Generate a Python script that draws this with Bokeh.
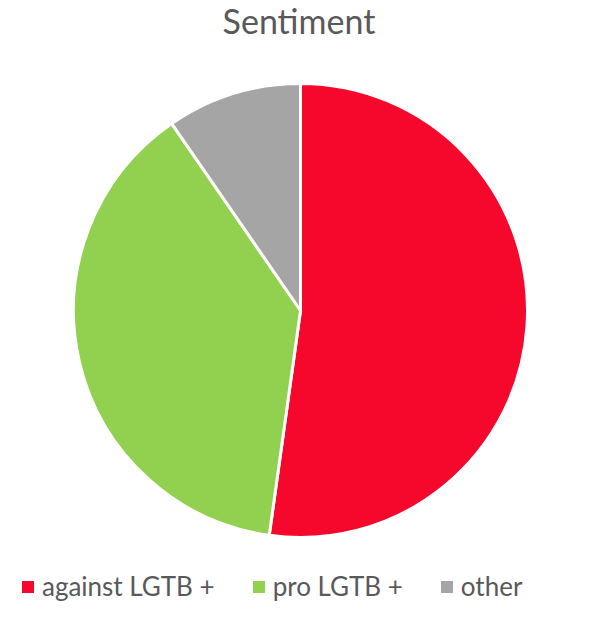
import numpy as np
from bokeh.plotting import figure
from bokeh.models import Range1d, Legend, LegendItem, Label, ColumnDataSource
from bokeh.embed import file_html
from bokeh.resources import INLINE

categories = ["against LGTB +", "pro LGTB +", "other"]
values = [52.2, 38.2, 9.6]
colors = ["#F5082C", "#92D050", "#A5A5A5"]
title_text = "Sentiment"

FONT = "Lato"
TXT = "#595959"

W, H = 578, 601
p = figure(width=W, height=H, output_backend="svg", toolbar_location=None,
           x_range=Range1d(0, W), y_range=Range1d(0, H),
           min_border=0, outline_line_color=None)
p.axis.visible = False
p.grid.visible = False
p.background_fill_color = "white"
p.border_fill_color = "white"

vals = np.array(values, dtype=float)
frac = vals / vals.sum()
cum = np.concatenate([[0.0], np.cumsum(frac)])
start = np.pi / 2 - cum[:-1] * 2 * np.pi
end = np.pi / 2 - cum[1:] * 2 * np.pi

cx, cy, r = 300, H - 310, 227
wedges = []
swatches = []
for i in range(len(categories)):
    src = ColumnDataSource(dict(x=[cx], y=[cy], s=[start[i]], e=[end[i]]))
    rr = p.wedge(x="x", y="y", radius=r, start_angle="s", end_angle="e", source=src,
                 direction="clock", fill_color=colors[i], line_color="white", line_width=3)
    wedges.append(rr)
    # off-screen swatch used only for the square legend glyph
    sw = p.quad(left=[-60], right=[-50], top=[-50], bottom=[-60],
                fill_color=colors[i], line_color=None)
    swatches.append(sw)

legend = Legend(items=[LegendItem(label=c, renderers=[swatches[i]]) for i, c in enumerate(categories)],
                orientation="horizontal", location=(20, -1),
                label_text_font=FONT, label_text_font_size="26px", label_text_color=TXT,
                glyph_width=15, glyph_height=15, label_standoff=7, spacing=36,
                label_height=24, padding=0, margin=0,
                border_line_color=None, background_fill_alpha=0)
p.add_layout(legend, "center")

title = Label(x=298.5, y=H - 20, text=title_text, text_align="center",
              text_baseline="middle", text_font=FONT, text_font_size="34px",
              text_color=TXT)
p.add_layout(title)

open("out.html", "w").write(file_html(p, INLINE))
